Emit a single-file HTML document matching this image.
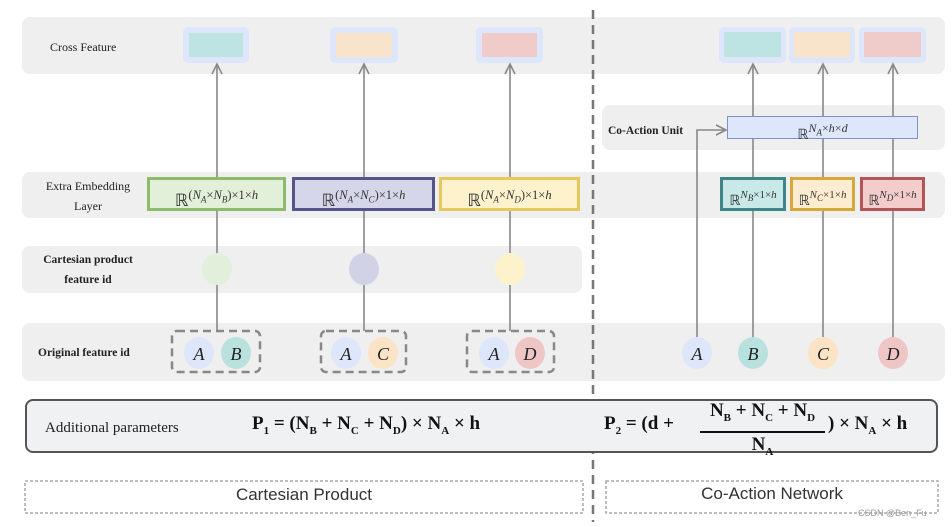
<!DOCTYPE html>
<html><head><meta charset="utf-8"><style>
body{margin:0;width:952px;height:527px;background:#fff;position:relative;overflow:hidden;font-family:"Liberation Serif",serif;}
.a{position:absolute;}
.band{position:absolute;background:#efefef;border-radius:8px;}
.lbl{position:absolute;font-size:12px;color:#222;text-align:center;line-height:22px;}
.box{position:absolute;box-sizing:border-box;border:3px solid;font-size:17px;text-align:center;line-height:30px;color:#333;font-family:"Liberation Serif",serif;white-space:nowrap;}
.box i{font-style:italic;}
sup{font-size:12.5px;vertical-align:7px;}
.box sub{font-size:9px;}
.f{position:absolute;font-family:"Liberation Serif",serif;font-weight:bold;font-size:19px;color:#111;}
.f sub{font-size:11px;}
</style></head><body>
<div class="band" style="left:22px;top:17px;width:923px;height:57px"></div>
<div class="band" style="left:602px;top:105px;width:343px;height:45px"></div>
<div class="band" style="left:22px;top:172px;width:923px;height:46px"></div>
<div class="band" style="left:22px;top:246px;width:560px;height:47px"></div>
<div class="band" style="left:22px;top:323px;width:923px;height:58px"></div>

<div class="lbl" style="left:50px;top:36px">Cross Feature</div>
<div class="lbl" style="left:38px;top:176px;width:100px;line-height:20px">Extra Embedding<br>Layer</div>
<div class="lbl" style="left:30px;top:250px;width:116px;line-height:20px;font-weight:bold;font-size:11.5px">Cartesian product<br>feature id</div>
<div class="lbl" style="left:38px;top:342px;font-weight:bold;font-size:11.5px">Original feature id</div>
<div class="lbl" style="left:608px;top:120px;font-weight:bold;font-size:11.5px">Co-Action Unit</div>

<div class="a" style="left:183px;top:27px;width:66px;height:36px;background:#dde6fb;border-radius:5px"><div class="a" style="left:6px;top:6px;width:54px;height:24px;background:#bde3e2"></div></div>
<div class="a" style="left:330px;top:27px;width:68px;height:36px;background:#dde6fb;border-radius:5px"><div class="a" style="left:6px;top:6px;width:56px;height:24px;background:#f8e4cb"></div></div>
<div class="a" style="left:476px;top:27px;width:67px;height:36px;background:#dde6fb;border-radius:5px"><div class="a" style="left:6px;top:6px;width:55px;height:24px;background:#efcbca"></div></div>
<div class="a" style="left:719px;top:27px;width:67px;height:36px;background:#dde6fb;border-radius:5px"><div class="a" style="left:5px;top:5px;width:57px;height:25px;background:#bde3e2"></div></div>
<div class="a" style="left:789px;top:27px;width:66px;height:36px;background:#dde6fb;border-radius:5px"><div class="a" style="left:5px;top:5px;width:56px;height:25px;background:#f8e4cb"></div></div>
<div class="a" style="left:859px;top:27px;width:67px;height:36px;background:#dde6fb;border-radius:5px"><div class="a" style="left:5px;top:5px;width:57px;height:25px;background:#efcbca"></div></div>

<svg class="a" style="left:0;top:0" width="952" height="527">
<g stroke="#888" stroke-width="1.6" fill="none">
<line x1="217" y1="66" x2="217" y2="331"/><line x1="364" y1="66" x2="364" y2="331"/><line x1="510" y1="66" x2="510" y2="331"/>
<line x1="753" y1="66" x2="753" y2="338"/><line x1="823" y1="66" x2="823" y2="338"/><line x1="893" y1="66" x2="893" y2="338"/>
<polyline points="697,338 697,130 725,130"/>
<polyline points="212,74 217,64 222,74"/><polyline points="359,74 364,64 369,74"/><polyline points="505,74 510,64 515,74"/>
<polyline points="748,74 753,64 758,74"/><polyline points="818,74 823,64 828,74"/><polyline points="888,74 893,64 898,74"/>
<polyline points="716,125 726,130 716,135"/>
</g>
<g stroke="#888" stroke-width="2.5" fill="none" stroke-dasharray="8,5">
<rect x="172" y="331" width="88" height="41" rx="5"/><rect x="321" y="331" width="85" height="41" rx="5"/><rect x="467" y="331" width="87" height="41" rx="5"/>
</g>
<line x1="593" y1="10" x2="593" y2="522" stroke="#777" stroke-width="2.5" stroke-dasharray="9,6"/>
<ellipse cx="217" cy="269" rx="15" ry="16" fill="#e1efdb"/><ellipse cx="364" cy="269" rx="15" ry="16" fill="#d2d2e6"/><ellipse cx="510" cy="269" rx="15" ry="16" fill="#fcf2cc"/>
<g font-family="Liberation Serif" font-style="italic" font-size="18" text-anchor="middle" fill="#222">
<ellipse cx="199" cy="353" rx="15" ry="16" fill="#dde6fb"/><text x="199" y="360">A</text>
<ellipse cx="236" cy="353" rx="15" ry="16" fill="#b9e2df"/><text x="236" y="360">B</text>
<ellipse cx="346" cy="353" rx="15" ry="16" fill="#dde6fb"/><text x="346" y="360">A</text>
<ellipse cx="383" cy="353" rx="15" ry="16" fill="#fbe3c5"/><text x="383" y="360">C</text>
<ellipse cx="494" cy="353" rx="15" ry="16" fill="#dde6fb"/><text x="494" y="360">A</text>
<ellipse cx="530" cy="353" rx="15" ry="16" fill="#efc6c6"/><text x="530" y="360">D</text>
<ellipse cx="697" cy="353" rx="15" ry="16" fill="#dde6fb"/><text x="697" y="360">A</text>
<ellipse cx="753" cy="353" rx="15" ry="16" fill="#b9e2df"/><text x="753" y="360">B</text>
<ellipse cx="823" cy="353" rx="15" ry="16" fill="#fbe3c5"/><text x="823" y="360">C</text>
<ellipse cx="893" cy="353" rx="15" ry="16" fill="#efc6c6"/><text x="893" y="360">D</text>
</g>
<rect x="25" y="481" width="558" height="32" fill="none" stroke="#999" stroke-width="1.3" stroke-dasharray="3,2"/>
<rect x="606" y="481" width="332" height="32" fill="none" stroke="#999" stroke-width="1.3" stroke-dasharray="3,2"/>
</svg>

<div class="box" style="left:147px;top:177px;width:139px;height:34px;border-color:#8dbb6c;background:#e2efd9">ℝ<sup>(<i>N<sub>A</sub></i>×<i>N<sub>B</sub></i>)×1×<i>h</i></sup></div>
<div class="box" style="left:292px;top:177px;width:143px;height:34px;border-color:#55558a;background:#d6d6ea">ℝ<sup>(<i>N<sub>A</sub></i>×<i>N<sub>C</sub></i>)×1×<i>h</i></sup></div>
<div class="box" style="left:439px;top:177px;width:141px;height:34px;border-color:#e6c85c;background:#fdf2cc">ℝ<sup>(<i>N<sub>A</sub></i>×<i>N<sub>D</sub></i>)×1×<i>h</i></sup></div>
<div class="box" style="left:720px;top:177px;width:66px;height:34px;border-color:#3e8585;background:#c9e9e8;font-size:14px">ℝ<sup style="font-size:11px"><i>N<sub>B</sub></i>×1×<i>h</i></sup></div>
<div class="box" style="left:790px;top:177px;width:65px;height:34px;border-color:#d4a93a;background:#fdeccf;font-size:14px">ℝ<sup style="font-size:11px"><i>N<sub>C</sub></i>×1×<i>h</i></sup></div>
<div class="box" style="left:860px;top:177px;width:65px;height:34px;border-color:#b05656;background:#f3cccc;font-size:14px">ℝ<sup style="font-size:11px"><i>N<sub>D</sub></i>×1×<i>h</i></sup></div>
<div class="box" style="left:727px;top:116px;width:191px;height:23px;border:1.5px solid #7c93c4;background:#dde6fb;font-size:14px;line-height:22px">ℝ<sup style="font-size:12px"><i>N<sub>A</sub></i>×<i>h</i>×<i>d</i></sup></div>

<div class="a" style="left:25px;top:399px;width:913px;height:54px;box-sizing:border-box;border:2px solid #555;border-radius:8px;background:#f0f1f3"></div>
<div class="a" style="left:45px;top:420px;font-size:15px;color:#222">Additional parameters</div>
<div class="f" style="left:252px;top:413px">P<sub>1</sub> = (N<sub>B</sub> + N<sub>C</sub> + N<sub>D</sub>) × N<sub>A</sub> × h</div>
<div class="f" style="left:604px;top:413px">P<sub>2</sub> = (d +</div>
<div class="f" style="left:700px;top:399px;width:125px;text-align:center;line-height:24px">N<sub>B</sub> + N<sub>C</sub> + N<sub>D</sub><div style="border-top:2px solid #111;margin-top:1px;line-height:24px">N<sub>A</sub></div></div>
<div class="f" style="left:828px;top:413px">) × N<sub>A</sub> × h</div>

<div class="a" style="left:25px;top:485px;width:558px;text-align:center;font-family:'Liberation Sans',sans-serif;font-size:17px;color:#333">Cartesian Product</div>
<div class="a" style="left:606px;top:484px;width:332px;text-align:center;font-family:'Liberation Sans',sans-serif;font-size:17px;color:#333">Co-Action Network</div>
<div class="a" style="left:858px;top:508px;font-family:'Liberation Sans',sans-serif;font-size:9px;color:#999">CSDN @Ben_Fu</div>
</body></html>
